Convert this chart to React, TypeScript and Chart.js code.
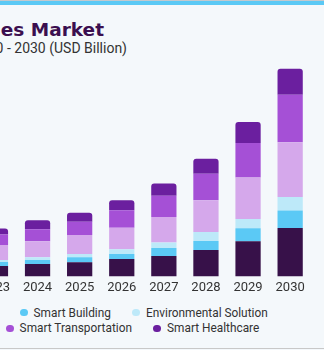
import React, { useEffect, useRef } from "react";
import { Chart, registerables } from "chart.js";

Chart.register(...registerables);

const years = ["2020", "2021", "2022", "2023", "2024", "2025", "2026", "2027", "2028", "2029", "2030"];

const seriesNames = [
  "Smart Governance",
  "Smart Building",
  "Environmental Solution",
  "Smart Utilities",
  "Smart Transportation",
  "Smart Healthcare",
];
const seriesColors = ["#371149", "#5bc9f5", "#bde9f9", "#d5a8eb", "#a550d6", "#6b1f9f"];

const smartGovernance = [3.6, 4.1, 4.6, 5.2, 6.2, 7.0, 8.7, 10.2, 13.2, 17.5, 24.2];
const smartBuilding = [1.3, 1.5, 1.8, 2.0, 2.0, 2.5, 2.5, 4.0, 4.5, 6.5, 8.7];
const environmentalSolution = [0.6, 0.7, 0.9, 1.0, 1.4, 1.7, 2.4, 2.7, 4.4, 4.7, 6.7];
const smartUtilities = [5.6, 6.2, 6.9, 7.5, 8.0, 9.4, 10.7, 12.8, 15.9, 20.7, 27.4];
const smartTransportation = [3.7, 4.2, 4.7, 5.2, 5.9, 6.7, 8.7, 10.5, 13.2, 17.2, 23.7];
const smartHealthcare = [2.1, 2.4, 2.7, 3.0, 4.5, 4.5, 5.0, 6.2, 7.5, 10.4, 12.9];

const seriesValues = [
  smartGovernance,
  smartBuilding,
  environmentalSolution,
  smartUtilities,
  smartTransportation,
  smartHealthcare,
];

const titleText = "Smart Cities Market";
const subtitleText = "Smart Cities Market Size, by Application, 2020 - 2030 (USD Billion)";
const legendRows = [[0, 1, 2], [3, 4, 5]];

export default function App() {
  const canvasRef = useRef<HTMLCanvasElement | null>(null);

  useEffect(() => {
    const canvas = canvasRef.current;
    if (!canvas) return;
    const last = seriesValues.length - 1;
    const chart = new Chart(canvas, {
      type: "bar",
      data: {
        labels: years,
        datasets: seriesValues.map((vals, i) => ({
          label: seriesNames[i],
          data: vals,
          backgroundColor: seriesColors[i],
          borderWidth: 0,
          borderRadius: i === last ? { topLeft: 3, topRight: 3, bottomLeft: 0, bottomRight: 0 } : 0,
          borderSkipped: false,
          categoryPercentage: 1,
          barPercentage: 0.6,
        })),
      },
      options: {
        animation: false,
        responsive: false,
        maintainAspectRatio: false,
        layout: { padding: { left: 2.1, right: 4.8, top: 6, bottom: 0 } },
        plugins: {
          legend: { display: false },
          tooltip: { enabled: false },
          title: { display: false },
        },
        scales: {
          x: {
            stacked: true,
            offset: true,
            grid: { display: false, drawTicks: false },
            border: { display: false },
            ticks: {
              color: "#333333",
              font: { family: "Roboto", size: 13 },
              padding: 4,
              maxRotation: 0,
              autoSkip: false,
            },
          },
          y: { stacked: true, display: false, min: 0, max: 105 },
        },
      },
    });
    return () => chart.destroy();
  }, []);

  return (
    <div
      style={{
        position: "fixed",
        left: 0,
        top: 0,
        width: 324,
        height: 350,
        overflow: "hidden",
        background: "#f4f8fb",
      }}
    >
      <div style={{ position: "absolute", left: 0, top: 0, width: 324, height: 1, background: "#c3c9ce" }} />
      <div style={{ position: "absolute", left: 0, top: 1, width: 324, height: 4, background: "#5bc9f5" }} />
      <div
        style={{
          position: "absolute",
          right: 220,
          top: 21,
          whiteSpace: "nowrap",
          fontFamily: "'DejaVu Sans', sans-serif",
          fontWeight: 700,
          fontSize: 18.5,
          lineHeight: "18.5px",
          color: "#3b0f4f",
        }}
      >
        {titleText}
      </div>
      <div
        style={{
          position: "absolute",
          right: 197,
          top: 41,
          whiteSpace: "nowrap",
          fontFamily: "Roboto, sans-serif",
          fontSize: 14,
          lineHeight: "14px",
          color: "#333333",
        }}
      >
        {subtitleText}
      </div>
      <canvas
        ref={canvasRef}
        width={470}
        height={240}
        style={{ position: "absolute", left: -154, top: 60, width: 470, height: 240 }}
      />
      {legendRows.map((row, r) => (
        <div
          key={r}
          style={{
            position: "absolute",
            right: r === 0 ? 56.3 : 64.7,
            top: r === 0 ? 304.5 : 320.3,
            display: "flex",
            alignItems: "center",
            whiteSpace: "nowrap",
            fontFamily: "Roboto, sans-serif",
            fontSize: 11.85,
            lineHeight: "16px",
            color: "#333333",
          }}
        >
          {row.map((idx, k) => (
            <div key={idx} style={{ display: "flex", alignItems: "center", marginLeft: k === 0 ? 0 : 21.5 }}>
              <span
                style={{
                  display: "inline-block",
                  width: 7.6,
                  height: 7.6,
                  borderRadius: "50%",
                  background: seriesColors[idx],
                  marginRight: 6,
                }}
              />
              <span>{seriesNames[idx]}</span>
            </div>
          ))}
        </div>
      ))}
      <div style={{ position: "absolute", left: 0, top: 348, width: 324, height: 1, background: "#c8c8c8" }} />
    </div>
  );
}
